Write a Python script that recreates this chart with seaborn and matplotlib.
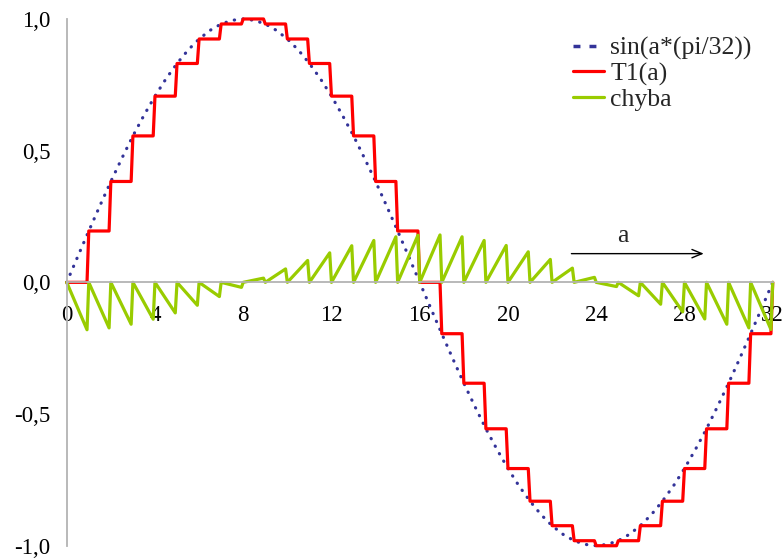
import numpy as np
import pandas as pd
import matplotlib
matplotlib.use("Agg")
import matplotlib.pyplot as plt
from matplotlib.lines import Line2D
import seaborn as sns

sns.set_theme(style="white")
plt.rcParams["font.family"] = ["Liberation Serif", "DejaVu Serif"]

# sine sampled every half step of a (0 .. 32)
a_half = np.arange(0, 32.5, 0.5)
sine_vals = [0.000, 0.098, 0.195, 0.290, 0.383, 0.471, 0.556, 0.634, 0.707, 0.773,
             0.831, 0.882, 0.924, 0.957, 0.981, 0.995, 1.000, 0.995, 0.981, 0.957,
             0.924, 0.882, 0.831, 0.773, 0.707, 0.634, 0.556, 0.471, 0.383, 0.290,
             0.195, 0.098, 0.000, -0.098, -0.195, -0.290, -0.383, -0.471, -0.556, -0.634,
             -0.707, -0.773, -0.831, -0.882, -0.924, -0.957, -0.981, -0.995, -1.000, -0.995,
             -0.981, -0.957, -0.924, -0.882, -0.831, -0.773, -0.707, -0.634, -0.556, -0.471,
             -0.383, -0.290, -0.195, -0.098, 0.000]

# T1(a) level held on each interval [k, k+1), plus the last point at a = 32
t1_levels = [0.000, 0.195, 0.383, 0.556, 0.707, 0.831, 0.924, 0.981, 1.000, 0.981,
             0.924, 0.831, 0.707, 0.556, 0.383, 0.195, 0.000, -0.195, -0.383, -0.556,
             -0.707, -0.831, -0.924, -0.981, -1.000, -0.981, -0.924, -0.831, -0.707, -0.556,
             -0.383, -0.195, 0.000]

# chyba (error) at the end of each interval, just before the next step
chyba_ends = [-0.180, -0.173, -0.159, -0.140, -0.116, -0.087, -0.054, -0.019,
              0.016, 0.051, 0.083, 0.112, 0.139, 0.159, 0.173, 0.179,
              0.180, 0.173, 0.159, 0.140, 0.116, 0.087, 0.054, 0.019,
              -0.016, -0.051, -0.083, -0.112, -0.139, -0.159, -0.173, -0.179]

x_ticks = [0, 4, 8, 12, 16, 20, 24, 28, 32]
y_ticks = [-1.0, -0.5, 0.0, 0.5, 1.0]
y_labels = ["-1,0", "-0,5", "0,0", "0,5", "1,0"]
legend_labels = ["sin(a*(pi/32))", "T1(a)", "chyba"]

# build the step / sawtooth paths (short ramp before each step like the original sampling)
step_gap = 0.08
k = np.arange(32)
step_x = np.append(np.column_stack([k, k + 1 - step_gap]).ravel(), 32)
t1_y = np.append(np.repeat(t1_levels[:32], 2), t1_levels[32])
chyba_y = np.append(np.column_stack([np.zeros(32), chyba_ends]).ravel(), 0.0)

df_sin = pd.DataFrame({"a": a_half, "val": sine_vals})
df_t1 = pd.DataFrame({"a": step_x, "val": t1_y})
df_err = pd.DataFrame({"a": step_x, "val": chyba_y})

sin_color = "#333399"
t1_color = "#ff0000"
err_color = "#99cc00"

fig, ax = plt.subplots(figsize=(7.84, 5.58), dpi=100)
fig.subplots_adjust(left=0.0851, right=0.9856, top=0.966, bottom=0.022)

sns.lineplot(data=df_sin, x="a", y="val", ax=ax, color=sin_color, lw=2.3,
             linestyle=(0, (0.1, 2.6)), dash_capstyle="round",
             estimator=None, sort=False, clip_on=False)
sns.lineplot(data=df_t1, x="a", y="val", ax=ax, color=t1_color, lw=2.3,
             estimator=None, sort=False, clip_on=False)
sns.lineplot(data=df_err, x="a", y="val", ax=ax, color=err_color, lw=2.3,
             estimator=None, sort=False, clip_on=False)

ax.set_xlim(0, 32)
ax.set_ylim(-1, 1)
ax.set_xlabel("")
ax.set_ylabel("")

# axes crossing at zero
ax.spines["bottom"].set_position(("data", 0))
for s in ["top", "right"]:
    ax.spines[s].set_visible(False)
for s in ["left", "bottom"]:
    ax.spines[s].set_color("#b3b3b3")
    ax.spines[s].set_linewidth(1.3)

ax.set_xticks(x_ticks)
ax.set_xticklabels([str(t) for t in x_ticks])
ax.set_yticks(y_ticks)
ax.set_yticklabels(y_labels)
ax.tick_params(axis="x", direction="in", length=4.5, width=1.2, color="#b3b3b3",
               pad=16, labelsize=16.5, labelcolor="black")
ax.tick_params(axis="y", direction="inout", length=11, width=1.2, color="#b3b3b3",
               pad=6, labelsize=16.5, labelcolor="black")

# arrow showing the direction of a
ax.annotate("", xy=(29.0, 0.109), xytext=(22.75, 0.109),
            arrowprops=dict(arrowstyle="->,head_length=0.6,head_width=0.25", color="black", lw=1))
ax.text(25.2, 0.175, "a", ha="center", va="center", fontsize=18.5)

handles = [Line2D([], [], color=sin_color, lw=2.5, linestyle=(0, (2.0, 2.6))),
           Line2D([], [], color=t1_color, lw=2.3),
           Line2D([], [], color=err_color, lw=2.3)]
ax.legend(handles, legend_labels, loc="upper left", bbox_to_anchor=(573 / 784, 0.934),
          bbox_transform=fig.transFigure, frameon=False, fontsize=18.5,
          handlelength=1.2, handletextpad=0.25, labelspacing=0.08,
          borderpad=0, borderaxespad=0)

fig.savefig("out.png", dpi=100)
